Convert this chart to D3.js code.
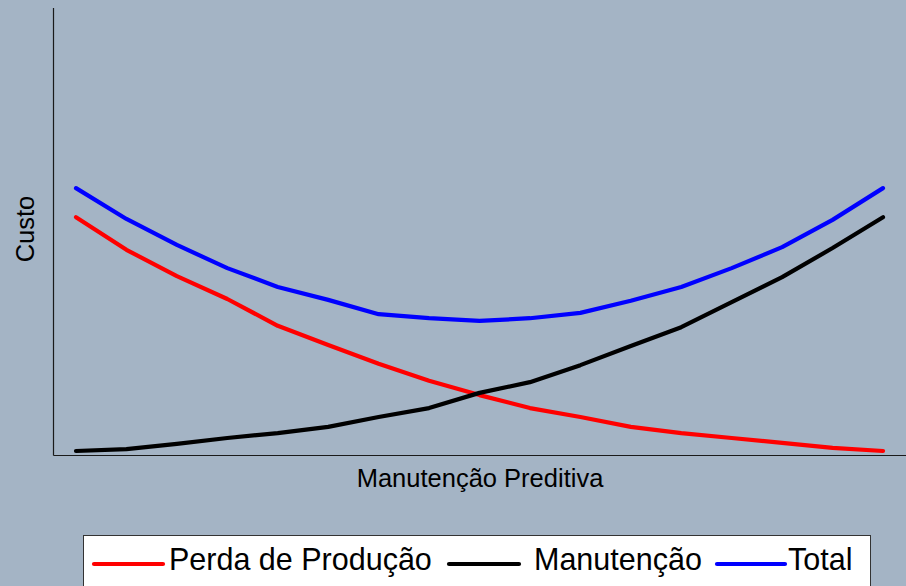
<!DOCTYPE html>
<html>
<head>
<meta charset="utf-8">
<script src="https://cdn.jsdelivr.net/npm/d3@7"></script>
<style>
  html, body { margin: 0; padding: 0; background: #a4b4c5; }
  svg { display: block; }
  text { font-family: "Liberation Sans", Arial, sans-serif; fill: #000; }
</style>
</head>
<body>
<svg id="chart" width="906" height="586"></svg>
<script>
// ---- data ----
const steps = [0,1,2,3,4,5,6,7,8,9,10,11,12,13,14,15,16];
const perdaProducao = [53.2,45.9,40.0,34.9,28.9,24.6,20.4,16.6,13.4,10.5,8.5,6.3,4.9,3.8,2.7,1.6,0.9];
const manutencao   = [0.9,1.3,2.5,3.8,4.9,6.3,8.5,10.5,13.9,16.3,20.1,24.4,28.6,34.2,39.8,46.3,53.2];
const total        = [59.7,52.8,47.0,41.8,37.6,34.7,31.5,30.6,30.0,30.6,31.8,34.5,37.6,41.8,46.5,52.6,59.7];
const seriesNames  = ["Perda de Produção", "Manutenção", "Total"];
const seriesColors = ["#ff0000", "#000000", "#0000ff"];
const yLabel = "Custo";
const xLabel = "Manutenção Preditiva";

// ---- layout ----
const W = 906, H = 586;
const svg = d3.select("#chart");
svg.append("rect").attr("width", W).attr("height", H).attr("fill", "#a4b4c5");

const x = d3.scaleLinear().domain([0, 16]).range([76, 883]);
const y = d3.scaleLinear().domain([0, 100]).range([455, 8]);

// axes (no ticks)
const axisX = d3.axisBottom(x).tickValues([]).tickSizeOuter(0);
const axisY = d3.axisLeft(y).tickValues([]).tickSizeOuter(0);
const gx = svg.append("g").attr("transform", "translate(0,455.5)").call(axisX);
gx.select(".domain").attr("d", "M53.5,0H906").attr("stroke", "#1a1a1a").attr("stroke-width", 1.2);
const gy = svg.append("g").attr("transform", "translate(53.5,0)").call(axisY);
gy.select(".domain").attr("d", "M0,8V455.5").attr("stroke", "#1a1a1a").attr("stroke-width", 1.2);

// lines
const data = [perdaProducao, manutencao, total];
const line = d3.line().x((d, i) => x(steps[i])).y(d => y(d));
data.forEach((vals, k) => {
  svg.append("path")
    .datum(vals)
    .attr("d", line)
    .attr("fill", "none")
    .attr("stroke", seriesColors[k])
    .attr("stroke-width", 4.2)
    .attr("stroke-linejoin", "round")
    .attr("stroke-linecap", "round");
});

// axis labels
svg.append("text")
  .attr("transform", "translate(34,229) rotate(-90)")
  .attr("text-anchor", "middle")
  .style("font-size", "25.5px")
  .text(yLabel);
svg.append("text")
  .attr("x", 480).attr("y", 487)
  .attr("text-anchor", "middle")
  .style("font-size", "25.5px")
  .text(xLabel);

// legend
const lg = svg.append("g");
lg.append("rect")
  .attr("x", 83.5).attr("y", 535.5)
  .attr("width", 787).attr("height", 70)
  .attr("fill", "#ffffff").attr("stroke", "#333").attr("stroke-width", 1);
const lineStarts = [94, 449, 717];
const lineLens = [69, 70, 68];
const textGaps = [6, 15, 3];
seriesNames.forEach((name, k) => {
  const x0 = lineStarts[k];
  lg.append("line")
    .attr("x1", x0).attr("x2", x0 + lineLens[k])
    .attr("y1", 564).attr("y2", 564)
    .attr("stroke", seriesColors[k]).attr("stroke-width", 4.2)
    .attr("stroke-linecap", "round");
  lg.append("text")
    .attr("x", x0 + lineLens[k] + textGaps[k])
    .attr("y", 570)
    .style("font-size", "30.5px")
    .text(name);
});
</script>
</body>
</html>
